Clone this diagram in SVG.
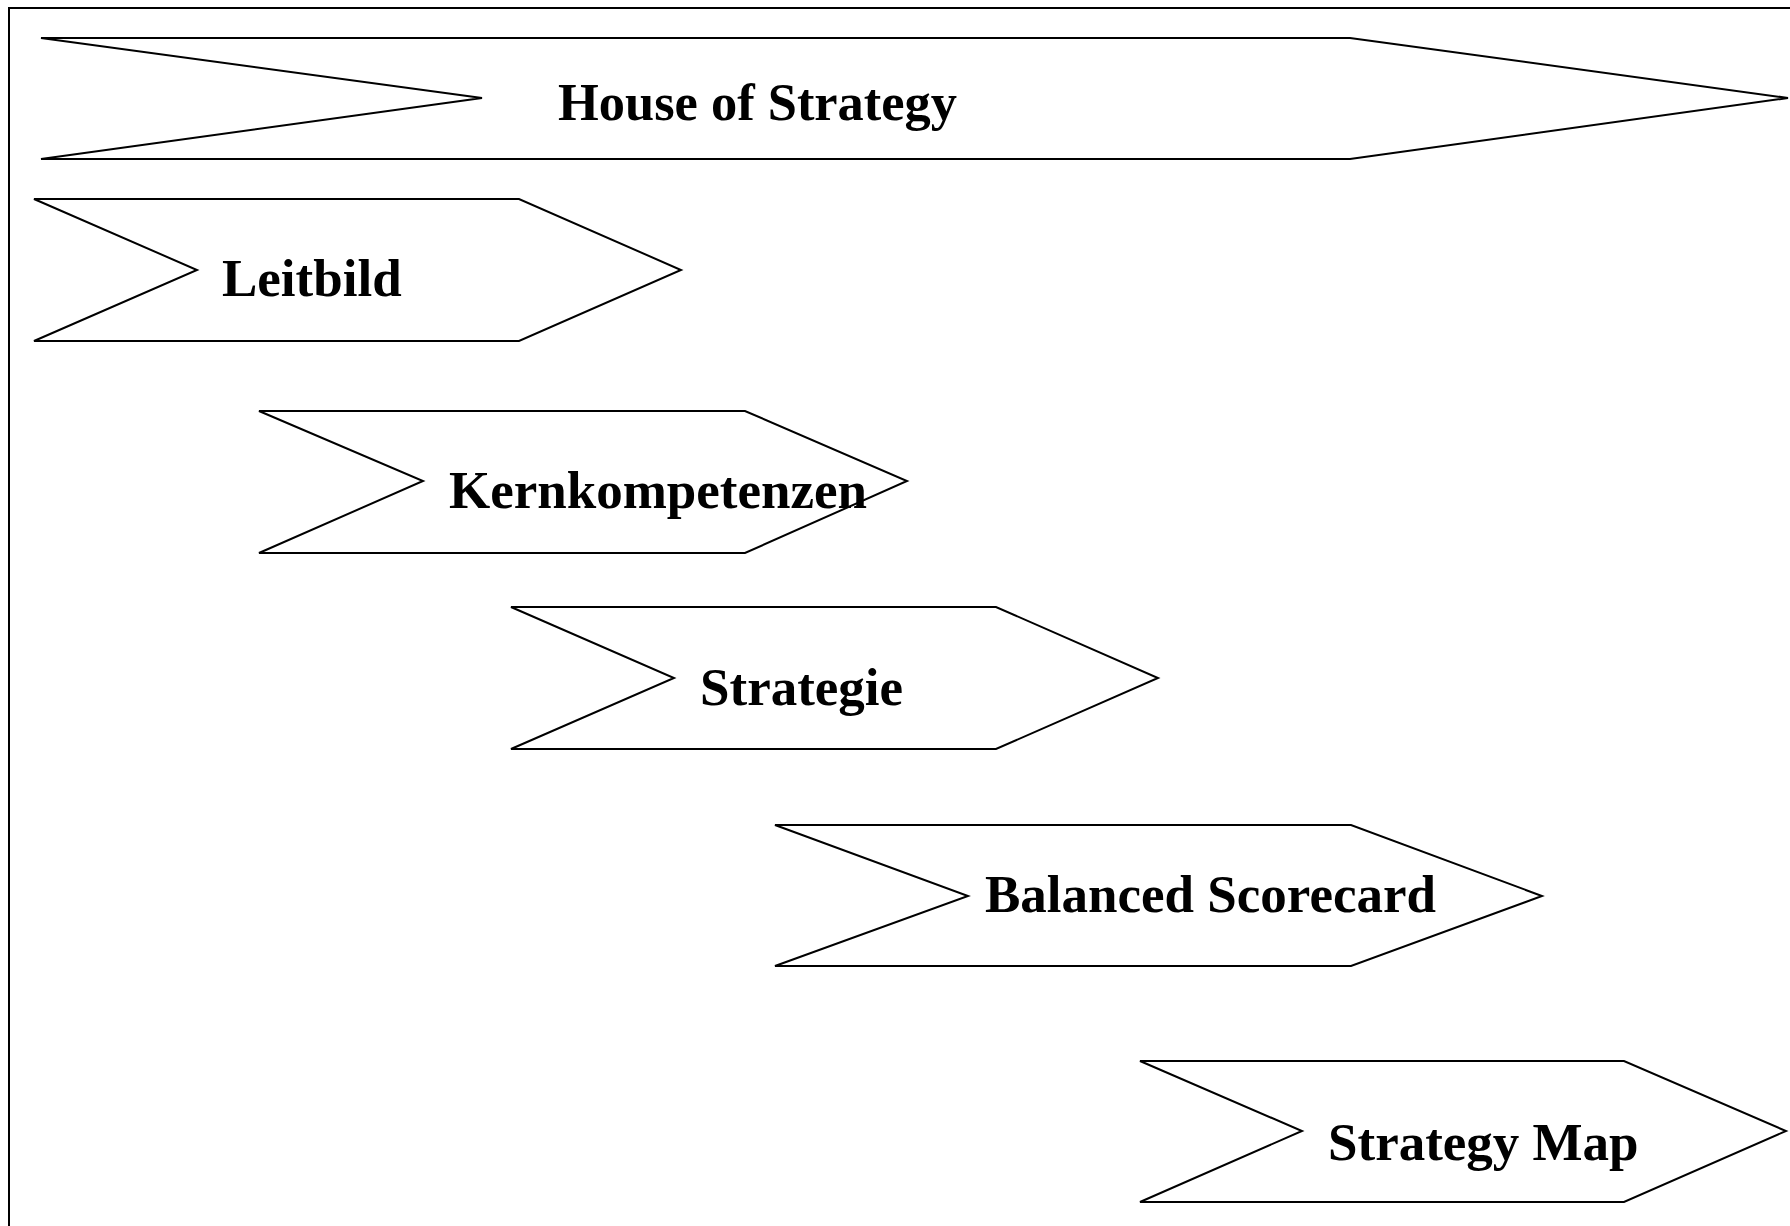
<svg xmlns="http://www.w3.org/2000/svg" width="1790" height="1226" viewBox="0 0 1790 1226">
<style>
.shape{fill:#ffffff;stroke:#000000;stroke-width:2;stroke-linejoin:miter}
.lbl{font-family:"Liberation Serif","Times New Roman",serif;font-weight:bold;font-size:53px;fill:#000000}
.frame{fill:none;stroke:#000000;stroke-width:2}
</style>
<rect x="0" y="0" width="1790" height="1226" fill="#ffffff"/>
<path class="frame" d="M9,1232 V8 H1796"/>
<g id="house">
<polygon class="shape" points="41,38 1350,38 1788,98 1350,159 41,159 482,98"/>
<text class="lbl" x="558" y="120" font-size="55" textLength="399" lengthAdjust="spacingAndGlyphs">House of Strategy</text>
</g>
<g id="leitbild">
<polygon class="shape" points="34,199 519,199 681,270 519,341 34,341 197,270"/>
<text class="lbl" x="222" y="296">Leitbild</text>
</g>
<g id="kernkompetenzen">
<polygon class="shape" points="259,411 745,411 907,481 745,553 259,553 423,481"/>
<text class="lbl" x="449" y="508">Kernkompetenzen</text>
</g>
<g id="strategie">
<polygon class="shape" points="511,607 996,607 1158,678 996,749 511,749 674,678"/>
<text class="lbl" x="700" y="705">Strategie</text>
</g>
<g id="balanced-scorecard">
<polygon class="shape" points="775,825 1351,825 1542,896 1351,966 775,966 968,896"/>
<text class="lbl" x="985" y="912">Balanced Scorecard</text>
</g>
<g id="strategy-map">
<polygon class="shape" points="1140,1061 1624,1061 1786,1131 1624,1202 1140,1202 1302,1131"/>
<text class="lbl" x="1328" y="1160">Strategy Map</text>
</g>
<g id="connectors"></g>
</svg>
